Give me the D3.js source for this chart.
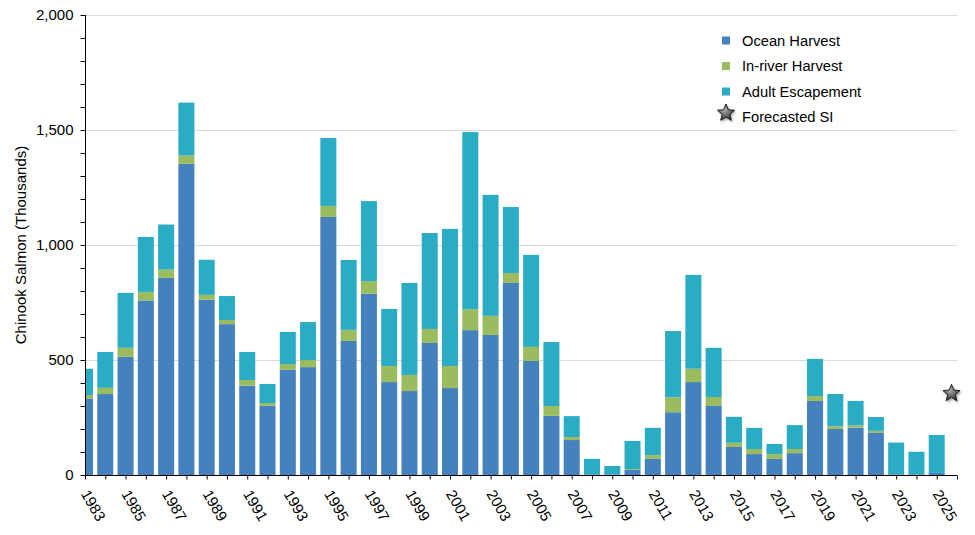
<!DOCTYPE html>
<html>
<head>
<meta charset="utf-8">
<script src="https://cdn.jsdelivr.net/npm/d3@7"></script>
<style>
  html, body { margin: 0; padding: 0; background: #fff; }
  svg { display: block; font-family: "Liberation Sans", Arial, sans-serif; }
</style>
</head>
<body>
<svg id="chart" width="975" height="535"></svg>
<script>
const years = [1983,1984,1985,1986,1987,1988,1989,1990,1991,1992,1993,1994,1995,1996,1997,1998,1999,2000,2001,2002,2003,2004,2005,2006,2007,2008,2009,2010,2011,2012,2013,2014,2015,2016,2017,2018,2019,2020,2021,2022,2023,2024,2025];
const oceanHarvest = [333,352,514,759,857,1353,762,656,388,301,457,469,1122,583,788,404,365,574,378,630,609,835,496,257,152,3,1,22,70,273,404,300,122,91,70,95,322,200,206,183,3,3,9];
const inriverHarvest = [15,27,39,37,36,36,21,18,25,12,25,31,48,48,55,70,70,61,96,91,83,43,61,43,13,0,0,4,16,65,58,39,18,22,21,18,21,12,10,9,0,0,0];
const adultEscapement = [114,156,239,239,196,230,153,104,122,83,140,165,295,304,348,248,400,417,596,770,526,287,400,278,91,67,38,122,119,288,408,214,113,92,44,104,162,140,106,60,138,98,165];
const seriesNames = ["Ocean Harvest", "In-river Harvest", "Adult Escapement"];
const seriesColors = ["#4581bc", "#9bbb5f", "#2bacc5"];
const forecastLabel = "Forecasted SI";
const forecastYear = 2026;
const forecastValue = 355;
const yTicksMajor = [0, 500, 1000, 1500, 2000];
const xTickLabels = [1983,1985,1987,1989,1991,1993,1995,1997,1999,2001,2003,2005,2007,2009,2011,2013,2015,2017,2019,2021,2023,2025];

const svg = d3.select("#chart");
const mLeft = 85, mRight = 957, mTop = 15, mBottom = 475;

const x = d3.scaleLinear().domain([years[0], forecastYear]).range([mLeft, mRight]);
const step = x(years[1]) - x(years[0]);
const barW = step * 0.79;
const y = d3.scaleLinear().domain([0, 2000]).range([mBottom, mTop]);

const defs = svg.append("defs");
defs.append("clipPath").attr("id", "plotclip")
  .append("rect").attr("x", mLeft).attr("y", 0).attr("width", mRight - mLeft).attr("height", mBottom);
const grad = defs.append("radialGradient").attr("id", "stargrad")
  .attr("cx", "40%").attr("cy", "35%").attr("r", "70%");
grad.append("stop").attr("offset", "0%").attr("stop-color", "#b0b0b0");
grad.append("stop").attr("offset", "100%").attr("stop-color", "#2a2a2a");
const shadow = defs.append("filter").attr("id", "shadow").attr("x", "-50%").attr("y", "-50%").attr("width", "200%").attr("height", "200%");
shadow.append("feDropShadow").attr("dx", 1).attr("dy", 1.5).attr("stdDeviation", 1.2).attr("flood-color", "#000").attr("flood-opacity", 0.4);

// gridlines
svg.append("g").selectAll("line").data(yTicksMajor.filter(d => d > 0)).join("line")
  .attr("x1", mLeft).attr("x2", mRight)
  .attr("y1", d => y(d) + 0.5).attr("y2", d => y(d) + 0.5)
  .attr("stroke", "#d9d9d9").attr("stroke-width", 1);

// stacked bars
const table = years.map((yr, i) => ({
  year: yr,
  ocean: oceanHarvest[i],
  inriver: inriverHarvest[i],
  escape: adultEscapement[i]
}));
const stack = d3.stack().keys(["ocean", "inriver", "escape"]);
const stacked = stack(table);

const barsG = svg.append("g").attr("clip-path", "url(#plotclip)");
barsG.selectAll("g").data(stacked).join("g")
  .attr("fill", (d, i) => seriesColors[i])
  .selectAll("rect").data(d => d).join("rect")
  .attr("x", d => x(d.data.year) - barW / 2)
  .attr("width", barW)
  .attr("y", d => y(d[1]))
  .attr("height", d => Math.max(0, y(d[0]) - y(d[1])));

// star path
function starPath(R, r) {
  const pts = [];
  for (let k = 0; k < 10; k++) {
    const rad = k % 2 === 0 ? R : r;
    const a = -Math.PI / 2 + k * Math.PI / 5;
    pts.push([rad * Math.cos(a), rad * Math.sin(a)]);
  }
  return "M" + pts.map(p => p[0].toFixed(2) + "," + p[1].toFixed(2)).join("L") + "Z";
}
const starD = starPath(9, 4);

svg.append("path")
  .attr("d", starD)
  .attr("transform", `translate(${x(forecastYear) - 5.5},${y(forecastValue)})`)
  .attr("fill", "url(#stargrad)")
  .attr("stroke", "#111").attr("stroke-width", 0.9)
  .attr("filter", "url(#shadow)");

// y axis
const yAxis = d3.axisLeft(y).tickValues(d3.range(0, 2001, 100)).tickSize(5)
  .tickFormat(d => yTicksMajor.includes(d) ? d3.format(",")(d) : "");
const yg = svg.append("g").attr("transform", `translate(${mLeft + 0.5},0)`).call(yAxis);
yg.select(".domain").attr("stroke", "#000").attr("d", `M0,${mTop}V${mBottom}`);
yg.selectAll(".tick line").attr("stroke", "#000");
yg.selectAll(".tick text").attr("x", -12).attr("font-size", 15).attr("fill", "#000")
  .attr("font-family", "'Liberation Sans', Arial, sans-serif");

// x axis
const xg = svg.append("g").attr("transform", `translate(0,${mBottom + 0.5})`);
xg.append("line").attr("x1", mLeft).attr("x2", mRight).attr("stroke", "#000");
xg.selectAll("line.t").data(years.concat([forecastYear])).join("line").attr("class", "t")
  .attr("x1", d => x(d) + 0.5).attr("x2", d => x(d) + 0.5)
  .attr("y1", 0).attr("y2", 4).attr("stroke", "#000");
xg.selectAll("text").data(xTickLabels).join("text")
  .attr("transform", d => `translate(${x(d)},15.5) rotate(60)`)
  .attr("dy", "0.35em")
  .attr("text-anchor", "start")
  .attr("font-size", 15)
  .attr("fill", "#000")
  .text(d => d);

// y title
svg.append("text")
  .attr("transform", `translate(26,${(mTop + mBottom) / 2}) rotate(-90)`)
  .attr("text-anchor", "middle")
  .attr("font-size", 15)
  .attr("fill", "#000")
  .text("Chinook Salmon (Thousands)");

// legend
const legend = svg.append("g").attr("transform", "translate(726,40.5)");
const rowH = 25.5;
seriesNames.forEach((name, i) => {
  const g = legend.append("g").attr("transform", `translate(0,${i * rowH})`);
  g.append("rect").attr("x", -4).attr("y", -4).attr("width", 8).attr("height", 8).attr("fill", seriesColors[i]);
  g.append("text").attr("x", 16).attr("dy", "0.36em").attr("font-size", 14.7).attr("fill", "#000").text(name);
});
const lg = legend.append("g").attr("transform", `translate(0,${3 * rowH - 4})`);
lg.append("path").attr("d", starD).attr("fill", "url(#stargrad)").attr("stroke", "#111").attr("stroke-width", 0.9).attr("filter", "url(#shadow)");
lg.append("text").attr("x", 16).attr("y", 4).attr("dy", "0.36em").attr("font-size", 14.7).attr("fill", "#000").text(forecastLabel);
</script>
</body>
</html>
